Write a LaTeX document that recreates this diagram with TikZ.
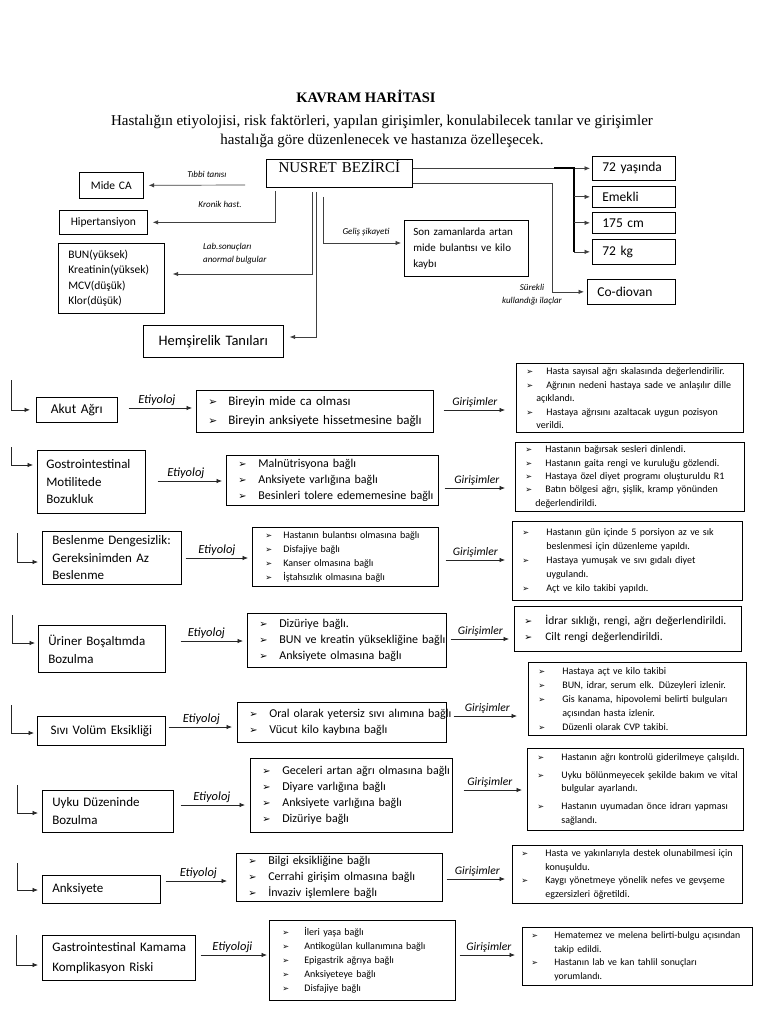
\documentclass[tikz,border=0pt]{standalone}
\usepackage{fontspec}
\usepackage{graphicx}
\setmainfont{Carlito}
\newfontfamily\tnr{Liberation Serif}
\newfontfamily\dejavu{DejaVu Sans}
\usetikzlibrary{arrows.meta}
\newlength\ind
\setlength\ind{19pt}
\newcommand\bulsym{{\dejavu\scalebox{0.82}{➢}}}
\newcommand\Li[1]{\mbox{\makebox[\ind][l]{\bulsym}#1}}
\newcommand\Lc[1]{\mbox{\hspace*{\ind}#1}}
\newcommand\Lh[1]{\mbox{\hspace*{0.5\ind}#1}}
\newcommand\fs[2]{\fontsize{#1}{#2}\selectfont}
\newcommand\Bx[8]{%
  \pgfmathsetmacro\bxw{#4-#2-2*#6}%
  \pgfmathsetmacro\bxh{#5-#3}%
  \node[bx, inner xsep=#6pt, text width=\bxw pt, minimum height=\bxh pt, #7] (#1) at (#2,#3) {#8};}
\newcommand\Ar[7]{%
  \draw[arr, shorten <=#4pt, shorten >=#5pt] (#1.east |- #3) -- node[#6]{#7} (#2.west |- #3);}
\begin{document}
\begin{tikzpicture}[x=1pt,y=-1pt,
  bx/.style={draw, line width=0.7pt, anchor=north west, inner ysep=0pt, align=left},
  arr/.style={-{Latex[length=5.5pt,width=4.5pt]}, line width=0.7pt, draw=black!85},
  tarr/.style={-{Latex[length=5.5pt,width=4.5pt]}, line width=0.7pt, draw=black!75},
  elab/.style={above=1pt, font=\itshape\fs{12.5}{14}, inner sep=1pt},
  glab/.style={above=1pt, font=\itshape\fs{11.5}{14}, inner sep=1pt},
  tlab/.style={font=\itshape\fs{9}{11}, inner sep=0pt}]
\fill[white] (0,0) rectangle (768,1024);
\useasboundingbox (0,0) rectangle (768,1024);

% ---------- header ----------
\node[font=\tnr\bfseries\fs{14.5}{17}] (title) at (366,96) {KAVRAM HARİTASI};
\node[font=\tnr\fs{15}{19}, align=center] (sub) at (382,131) {Hastalığın etiyolojisi, risk faktörleri, yapılan girişimler, konulabilecek tanılar ve girişimler\\hastalığa göre düzenlenecek ve hastanıza özelleşecek.};

% ---------- top part ----------
\Bx{n}{266}{159}{412}{187}{2}{align=center, font=\tnr\fs{15}{17}, text height=10.5pt, text depth=12pt}{NUSRET BEZİRCİ}
\Bx{y72}{592}{156}{675}{180}{10}{font=\fs{13.5}{16}}{72 yaşında}
\Bx{em}{592}{186}{675}{207}{10}{font=\fs{13.5}{16}}{Emekli}
\Bx{cm}{592}{212}{675}{233}{10}{font=\fs{13.5}{16}}{175 cm}
\Bx{kg}{592}{239}{675}{264}{10}{font=\fs{13.5}{16}}{72 kg}
\Bx{co}{587}{279}{675}{304}{10}{font=\fs{13.5}{16}}{Co-diovan}
\Bx{mide}{79}{172}{143}{198}{2}{align=center, font=\fs{11.5}{14}}{Mide CA}
\Bx{hip}{59}{210}{147}{234}{2}{align=center, font=\fs{11.5}{14}}{Hipertansiyon}
\Bx{bun}{58}{243}{164}{313}{10}{font=\fs{11.5}{15.3}}{BUN(yüksek)\\Kreatinin(yüksek)\\MCV(düşük)\\Klor(düşük)}
\Bx{hem}{143}{325}{283}{357}{2}{align=center, font=\fs{14.5}{17}}{Hemşirelik Tanıları}
\Bx{son}{404}{220}{528}{276}{9}{font=\fs{11}{16}}{Son zamanlarda artan\\mide bulantısı ve kilo\\kaybı}

% connectors right
\draw[tarr, shorten >=2pt] (n.east |- y72.west) -- (y72.west);
\coordinate (tk) at (574,168);
\draw[line width=1.4pt] ([xshift=-20pt]tk) -- (tk) -- (tk |- kg.west);
\draw[tarr, shorten >=2pt] (tk |- em.west) -- (em.west);
\draw[tarr, shorten >=2pt] (tk |- cm.west) -- (cm.west);
\draw[tarr, shorten >=2pt] (tk |- kg.west) -- (kg.west);
\coordinate (cd) at (552,183);
\draw[tarr, shorten >=3pt] (n.east |- cd) -- (cd) |- (co.west);
\node[tlab] (sur1) at (532,287) {Sürekli};
\node[tlab] (sur2) at (532,301) {kullandığı ilaçlar};
\coordinate (gs) at (323,197);
\coordinate (gs2) at (0,243);
\draw[tarr, shorten >=3pt] (gs) |- (son.west |- gs2);
\node[tlab] (gl) at (366,232) {Geliş şikayeti};

% connectors left
\coordinate (tt) at (245,185);
\draw[tarr, shorten >=5pt] (tt) -- (mide.east);
\node[tlab] (tbl) at (207,174) {Tıbbi tanısı};
\coordinate (kr) at (275,191);
\draw[tarr, shorten >=5pt] (kr) |- (hip.east);
\node[tlab] (krl) at (220,204) {Kronik hast.};
\coordinate (lb) at (312,192);
\coordinate (lb2) at (0,274);
\draw[tarr, shorten >=8pt] (lb) |- (bun.east |- lb2);
\node[tlab, anchor=west] (lbl1) at (203,247) {Lab.sonuçları};
\node[tlab, anchor=west] (lbl2) at (203,260) {anormal bulgular};
\coordinate (hm) at (316,192);
\coordinate (hm2) at (0,337);
\draw[tarr, shorten >=6pt] (hm) |- (hem.east |- hm2);

% ---------- Row 1 ----------
\Bx{a1}{36}{397}{117}{422}{2}{align=center, font=\fs{13.5}{16}}{Akut Ağrı}
\Bx{b1}{196}{390}{433}{432}{12}{font={\fs{13}{19}\setlength\ind{20pt}}}{\Li{Bireyin mide ca olması}\\\Li{Bireyin anksiyete hissetmesine bağlı}}
\Bx{c1}{516}{363}{743}{432}{10}{font={\fs{10}{12.8}\setlength\ind{20pt}}}{\Li{Hasta sayısal ağrı skalasında değerlendirilir.}\\[1.5pt]\Li{Ağrının nedeni hastaya sade ve anlaşılır dille}\\\Lh{açıklandı.}\\[1.5pt]\Li{Hastaya ağrısını azaltacak uygun pozisyon}\\\Lh{verildi.}}
\coordinate (t1) at (11,380);
\draw[arr, shorten >=6pt] (t1) |- (a1.west);
\coordinate (e1) at (0,408);
\coordinate (g1) at (0,410);
\Ar{a1}{b1}{e1}{11}{4}{elab}{Etiyoloj}
\Ar{b1}{c1}{g1}{10}{11}{glab}{Girişimler}

% ---------- Row 2 ----------
\Bx{a2}{37}{450}{145}{513}{9}{font=\fs{13}{17.5}}{\mbox{Gostrointestinal}\\Motilitede\\Bozukluk}
\Bx{b2}{226}{455}{438}{505}{12}{font={\fs{12}{16}\setlength\ind{20pt}}}{\Li{Malnütrisyona bağlı}\\\Li{Anksiyete varlığına bağlı}\\\Li{Besinleri tolere edememesine bağlı}}
\Bx{c2}{515}{442}{744}{511}{10}{font={\fs{10}{13.3}\setlength\ind{20pt}}}{\Li{Hastanın bağırsak sesleri dinlendi.}\\\Li{Hastanın gaita rengi ve kuruluğu gözlendi.}\\\Li{Hastaya özel diyet programı oluşturuldu R1}\\\Li{Batın bölgesi ağrı, şişlik, kramp yönünden}\\\Lh{değerlendirildi.}}
\coordinate (t2) at (11,447);
\coordinate (l2) at (0,465);
\draw[arr, shorten >=4pt] (t2) |- (a2.west |- l2);
\coordinate (e2) at (0,481);
\coordinate (g2) at (0,488);
\Ar{a2}{b2}{e2}{12}{4}{elab}{Etiyoloj}
\Ar{b2}{c2}{g2}{6}{10}{glab}{Girişimler}

% ---------- Row 3 ----------
\Bx{a3}{42}{531}{181}{584}{10}{font=\fs{13}{17.5}}{\mbox{Beslenme Dengesizlik:}\\\mbox{Gereksinimden Az}\\Beslenme}
\Bx{b3}{252}{527}{438}{586}{13}{font={\fs{10}{14}\setlength\ind{18pt}}}{\Li{Hastanın bulantısı olmasına bağlı}\\\Li{Disfajiye bağlı}\\\Li{Kanser olmasına bağlı}\\\Li{İştahsızlık olmasına bağlı}}
\Bx{c3}{512}{521}{742}{600}{10}{font={\fs{10}{14}\setlength\ind{24pt}}}{\Li{Hastanın gün içinde 5 porsiyon az ve sık}\\\Lc{beslenmesi için düzenleme yapıldı.}\\\Li{Hastaya yumuşak ve sıvı gıdalı diyet}\\\Lc{uygulandı.}\\\Li{Açt ve kilo takibi yapıldı.}}
\coordinate (t3) at (17,533);
\coordinate (l3) at (0,562);
\draw[arr, shorten >=4pt] (t3) |- (a3.west |- l3);
\coordinate (e3) at (0,558);
\coordinate (g3) at (0,560);
\Ar{a3}{b3}{e3}{4}{4}{elab}{Etiyoloj}
\Ar{b3}{c3}{g3}{7}{7}{glab}{Girişimler}

% ---------- Row 4 ----------
\Bx{a4}{38}{625}{165}{672}{10}{font=\fs{13}{18}}{\mbox{Üriner Boşaltımda}\\Bozulma}
\Bx{b4}{247}{613}{446}{667}{12}{font={\fs{12}{16}\setlength\ind{20pt}}}{\Li{Dizüriye bağlı.}\\\Li{BUN ve kreatin yüksekliğine bağlı}\\\Li{Anksiyete olmasına bağlı}}
\Bx{c4}{514}{606}{741}{651}{10}{font={\fs{11.5}{16}\setlength\ind{21pt}}}{\Li{İdrar sıklığı, rengi, ağrı değerlendirildi.}\\\Li{Cilt rengi değerlendirildi.}}
\coordinate (t4) at (12,615);
\coordinate (l4) at (0,643);
\draw[arr, shorten >=3pt] (t4) |- (a4.west |- l4);
\coordinate (e4) at (0,641);
\coordinate (g4) at (0,639);
\Ar{a4}{b4}{e4}{15}{4}{elab}{Etiyoloj}
\Ar{b4}{c4}{g4}{4}{5}{glab}{Girişimler}

% ---------- Row 5 ----------
\Bx{a5}{37}{716}{165}{745}{2}{align=center, font=\fs{13}{16}}{Sıvı Volüm Eksikliği}
\Bx{b5}{237}{702}{446}{742}{12}{font={\fs{12}{15.5}\setlength\ind{20pt}}}{\Li{Oral olarak yetersiz sıvı alımına bağlı}\\\Li{Vücut kilo kaybına bağlı}}
\Bx{c5}{528}{662}{746}{735}{10}{font={\fs{10}{14}\setlength\ind{24pt}}}{\Li{Hastaya açt ve kilo takibi}\\\Li{BUN, idrar, serum elk. Düzeyleri izlenir.}\\\Li{Gis kanama, hipovolemi belirti bulguları}\\\Lc{açısından hasta izlenir.}\\\Li{Düzenli olarak CVP takibi.}}
\coordinate (t5) at (11,705);
\coordinate (l5) at (0,733);
\draw[arr, shorten >=3pt] (t5) |- (a5.west |- l5);
\coordinate (e5) at (0,727);
\coordinate (g5) at (0,716);
\Ar{a5}{b5}{e5}{3}{5}{elab}{Etiyoloj}
\Ar{b5}{c5}{g5}{7}{11}{glab}{Girişimler}

% ---------- Row 6 ----------
\Bx{a6}{42}{790}{173}{832}{10}{font=\fs{13}{18}}{\mbox{Uyku Düzeninde}\\Bozulma}
\Bx{b6}{250}{758}{452}{832}{12}{font={\fs{12}{15.7}\setlength\ind{20pt}}}{\Li{Geceleri artan ağrı olmasına bağlı}\\\Li{Diyare varlığına bağlı}\\\Li{Anksiyete varlığına bağlı}\\\Li{Dizüriye bağlı}}
\Bx{c6}{527}{748}{743}{830}{10}{font={\fs{10}{13.5}\setlength\ind{24pt}}}{\Li{Hastanın ağrı kontrolü giderilmeye çalışıldı.}\\[4.5pt]\Li{Uyku bölünmeyecek şekilde bakım ve vital}\\\Lc{bulgular ayarlandı.}\\[4.5pt]\Li{Hastanın uyumadan önce idrarı yapması}\\\Lc{sağlandı.}}
\coordinate (t6) at (17,785);
\coordinate (l6) at (0,813);
\draw[arr, shorten >=4pt] (t6) |- (a6.west |- l6);
\coordinate (e6) at (0,805);
\coordinate (g6) at (0,790);
\Ar{a6}{b6}{e6}{7}{5}{elab}{Etiyoloj}
\Ar{b6}{c6}{g6}{11}{5}{glab}{Girişimler}

% ---------- Row 7 ----------
\Bx{a7}{42}{875}{160}{903}{10}{font=\fs{13}{16}}{Anksiyete}
\Bx{b7}{236}{853}{442}{901}{12}{font={\fs{12}{16}\setlength\ind{20pt}}}{\Li{Bilgi eksikliğine bağlı}\\\Li{Cerrahi girişim olmasına bağlı}\\\Li{İnvaziv işlemlere bağlı}}
\Bx{c7}{512}{845}{742}{903}{9}{font={\fs{10}{13.5}\setlength\ind{24pt}}}{\Li{Hasta ve yakınlarıyla destek olunabilmesi için}\\\Lc{konuşuldu.}\\\Li{Kaygı yönetmeye yönelik nefes ve gevşeme}\\\Lc{egzersizleri öğretildi.}}
\coordinate (t7) at (17,863);
\coordinate (l7) at (0,890);
\draw[arr, shorten >=4pt] (t7) |- (a7.west |- l7);
\coordinate (e7) at (0,881);
\coordinate (g7) at (0,879);
\Ar{a7}{b7}{e7}{5}{9}{elab}{Etiyoloj}
\Ar{b7}{c7}{g7}{4}{7}{glab}{Girişimler}

% ---------- Row 8 ----------
\Bx{a8}{42}{935}{195}{980}{10}{font=\fs{13}{20}}{\mbox{Gastrointestinal Kamama}\\\mbox{Komplikasyon Riski}}
\Bx{b8}{269}{920}{455}{1000}{13}{font={\fs{10}{14}\setlength\ind{22pt}}}{\Li{İleri yaşa bağlı}\\\Li{Antikogülan kullanımına bağlı}\\\Li{Epigastrik ağrıya bağlı}\\\Li{Anksiyeteye bağlı}\\\Li{Disfajiye bağlı}}
\Bx{c8}{522}{927}{752}{985}{9}{font={\fs{9.8}{13.5}\setlength\ind{23pt}}}{\Li{Hematemez ve melena belirti-bulgu açısından}\\\Lc{takip edildi.}\\\Li{Hastanın lab ve kan tahlil sonuçları}\\\Lc{yorumlandı.}}
\coordinate (t8) at (16,935);
\coordinate (l8) at (0,965);
\draw[arr, shorten >=4pt] (t8) |- (a8.west |- l8);
\coordinate (e8) at (0,955);
\coordinate (g8) at (0,955);
\Ar{a8}{b8}{e8}{5}{2}{elab, above=0pt}{Etiyoloji}
\Ar{b8}{c8}{g8}{4}{7}{glab}{Girişimler}
\end{tikzpicture}
\end{document}
